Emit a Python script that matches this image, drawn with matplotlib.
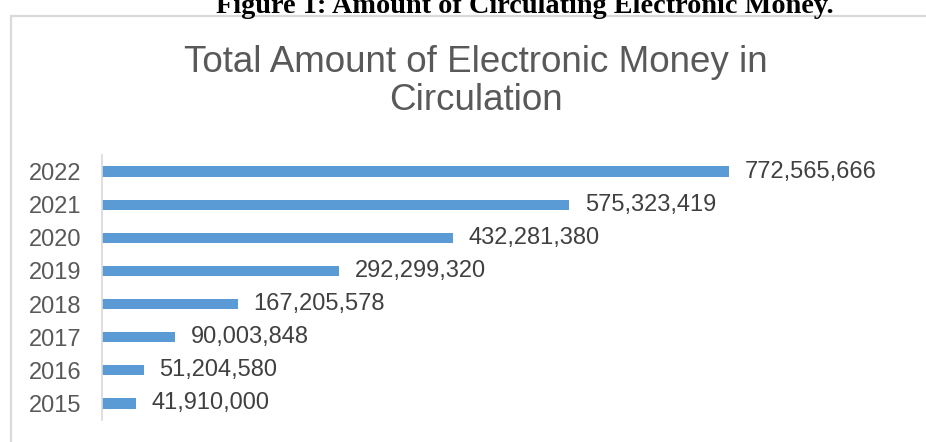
import matplotlib.pyplot as plt
from matplotlib.patches import Rectangle

years = ['2015', '2016', '2017', '2018', '2019', '2020', '2021', '2022']
amounts = [41910000, 51204580, 90003848, 167205578, 292299320, 432281380, 575323419, 772565666]

W, H = 926, 442
fig = plt.figure(figsize=(W / 100, H / 100), dpi=100)
plt.rcParams['font.family'] = ['Liberation Sans', 'DejaVu Sans']

# chart frame (cut off at right and bottom like the screenshot)
fig.patches.append(Rectangle((10.5 / W, -0.1), 1.0, (H - 15.5) / H + 0.1,
                             transform=fig.transFigure, fill=False,
                             edgecolor='#DADADA', lw=1.6))

# caption above the chart, partly cut off
fig.text(525 / W, 1 - 13 / H, 'Figure 1: Amount of Circulating Electronic Money.',
         ha='center', va='baseline', fontsize=20.3, fontweight='bold',
         family='Liberation Serif', color='black')

fig.text(476 / W, 1 - 62 / H, 'Total Amount of Electronic Money in',
         ha='center', va='center', fontsize=26.5, color='#595959')
fig.text(476 / W, 1 - 101 / H, 'Circulation',
         ha='center', va='center', fontsize=26.5, color='#595959')

ax = fig.add_axes([102 / W, (H - 420) / H, 730 / W, 265 / H])
ax.barh(years, amounts, height=0.31, color='#5B9BD5')
ax.set_xlim(0, 900000000)
ax.set_ylim(-0.5, len(years) - 0.5)

for y, v in zip(years, amounts):
    ax.annotate(f'{v:,}', (v, y), xytext=(11.5, 0), textcoords='offset points',
                ha='left', va='center', fontsize=17, color='#404040')

for s in ['top', 'right', 'bottom']:
    ax.spines[s].set_visible(False)
ax.spines['left'].set_color('#D9D9D9')
ax.spines['left'].set_linewidth(1.2)
ax.set_xticks([])
ax.tick_params(axis='y', length=0, pad=15, labelsize=17, labelcolor='#595959')
ax.patch.set_alpha(0)

fig.savefig('out.png', dpi=100)
